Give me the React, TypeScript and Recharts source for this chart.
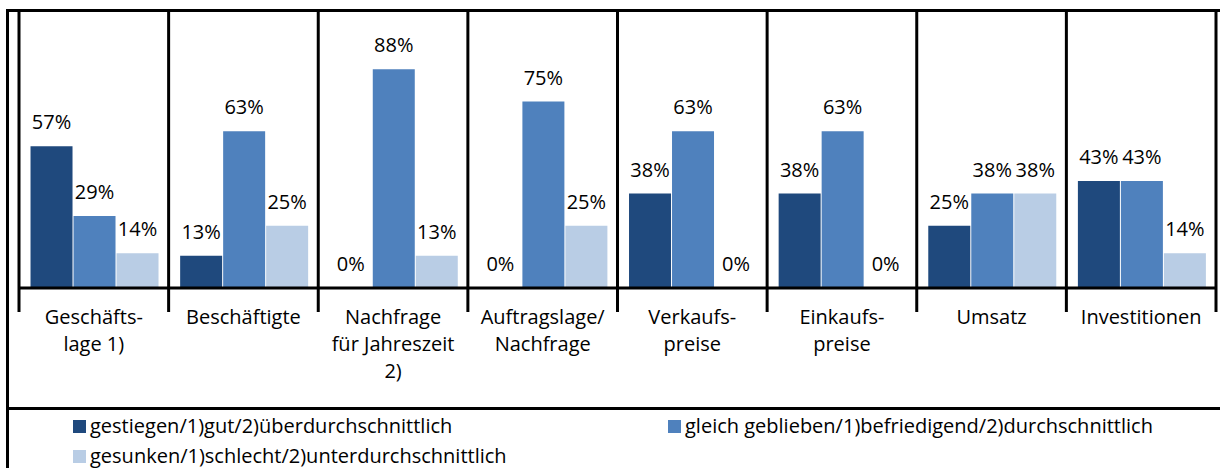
import React from 'react';
import { BarChart, Bar, XAxis, YAxis, ReferenceLine, LabelList, Legend } from 'recharts';

const categories = [
  'Geschäfts-\nlage 1)',
  'Beschäftigte',
  'Nachfrage\nfür Jahreszeit\n2)',
  'Auftragslage/\nNachfrage',
  'Verkaufs-\npreise',
  'Einkaufs-\npreise',
  'Umsatz',
  'Investitionen',
];
const gestiegen = [57, 13, 0, 0, 38, 38, 25, 43];
const gleich = [29, 63, 88, 75, 63, 63, 38, 43];
const gesunken = [14, 25, 13, 25, 0, 0, 38, 14];

const seriesNames = [
  'gestiegen/1)gut/2)überdurchschnittlich',
  'gleich geblieben/1)befriedigend/2)durchschnittlich',
  'gesunken/1)schlecht/2)unterdurchschnittlich',
];
const colors = ['#1F497D', '#4F81BD', '#B9CDE5'];

const data = categories.map((name, i) => ({
  name,
  gestiegen: gestiegen[i],
  gleich: gleich[i],
  gesunken: gesunken[i],
}));

const FONT = '"Open Sans", sans-serif';
const FS = 20;

const CategoryTick: React.FC<any> = ({ x, y, payload }) => {
  const lines = String(payload.value).split('\n');
  return (
    <text x={x} y={y + 36} textAnchor="middle" fontSize={FS} fill="#000" fontFamily={FONT}>
      {lines.map((l, i) => (
        <tspan key={i} x={x} dy={i === 0 ? 0 : 27}>{l}</tspan>
      ))}
    </text>
  );
};

const ValueLabel: React.FC<any> = ({ x, y, width, value }) => (
  <text x={x + width / 2} y={y - 17} textAnchor="middle" fontSize={FS} fill="#000" fontFamily={FONT}>
    {`${value}%`}
  </text>
);

// separator line running through the plot and 24px below the axis
const Separator: React.FC<any> = ({ x1, y1, x2, y2 }) => (
  <line x1={x1} y1={Math.min(y1, y2)} x2={x2} y2={Math.max(y1, y2) + 24} stroke="#000" strokeWidth={3} />
);

const LegendContent: React.FC<any> = () => {
  const pos = [
    { left: 73, top: 7 },
    { left: 668, top: 7 },
    { left: 73, top: 37 },
  ];
  return (
    <div style={{ position: 'relative', width: 1220, height: 59, fontFamily: FONT, fontSize: FS }}>
      {seriesNames.map((n, i) => (
        <div key={n} style={{ position: 'absolute', left: pos[i].left, top: pos[i].top, display: 'flex', alignItems: 'center', whiteSpace: 'nowrap', lineHeight: '20px' }}>
          <span style={{ display: 'inline-block', width: 13, height: 13, background: colors[i], marginRight: 4 }} />
          <span>{n}</span>
        </div>
      ))}
    </div>
  );
};

const line = (style: React.CSSProperties) => (
  <div style={{ position: 'absolute', background: '#000', ...style }} />
);

// keep zero-value bars in the layout so their "0%" label is still drawn
const keepZero = (v: any) => (v === 0 ? 0.01 : 0);

export default function App() {
  return (
    <div style={{ position: 'absolute', left: 0, top: 0, width: 1220, height: 468, background: '#fff' }}>
      <BarChart
        width={1220}
        height={468}
        data={data}
        margin={{ top: 12, right: 4, bottom: 0, left: 19 }}
        barCategoryGap="7.7%"
        barGap={1}
        style={{ fontFamily: FONT }}
      >
        <XAxis
          dataKey="name"
          height={121}
          tickSize={0}
          tickMargin={0}
          tickLine={false}
          axisLine={{ stroke: '#000', strokeWidth: 3 }}
          tick={<CategoryTick />}
          interval={0}
        />
        <YAxis hide domain={[0, 111]} />
        {categories.map((c) => (
          <ReferenceLine key={c} x={c} position="start" shape={<Separator />} />
        ))}
        <ReferenceLine x={categories[categories.length - 1]} position="end" shape={<Separator />} />
        <Legend verticalAlign="bottom" height={59} content={<LegendContent />} wrapperStyle={{ left: 0, width: 1220 }} />
        {(['gestiegen', 'gleich', 'gesunken'] as const).map((k, i) => (
          <Bar key={k} dataKey={k} name={seriesNames[i]} fill={colors[i]} minPointSize={keepZero} isAnimationActive={false}>
            <LabelList dataKey={k} content={<ValueLabel />} />
          </Bar>
        ))}
      </BarChart>
      {line({ left: 6, top: 9, width: 1214, height: 3 })}
      {line({ left: 6, top: 9, width: 3, height: 459 })}
      {line({ left: 6, top: 407, width: 1214, height: 3 })}
    </div>
  );
}
